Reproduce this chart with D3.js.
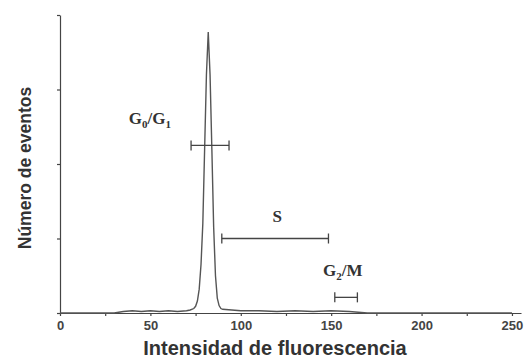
<!DOCTYPE html>
<html>
<head>
<meta charset="utf-8">
<script src="https://cdn.jsdelivr.net/npm/d3@7"></script>
<style>
  body { margin: 0; background: #fff; }
  svg { display: block; }
  .axis path, .axis line { stroke: #444; stroke-width: 1.2; }
  .axis text { font-family: "Liberation Sans", Arial, sans-serif; font-size: 13px; font-weight: bold; fill: #444; }
  .title { font-family: "Liberation Sans", Arial, sans-serif; font-weight: bold; fill: #333; }
  .lbl { font-family: "Liberation Serif", "Times New Roman", serif; font-weight: bold; fill: #333; }
</style>
</head>
<body>
<div id="chart"></div>
<script>
// histogram (fluorescence channel vs. events)
var channel = [0, 30, 35, 40, 45, 50, 55, 60, 65, 70, 72, 74, 75, 76, 77, 78, 79, 80, 81, 82,
               83, 84, 85, 86, 87, 88, 89, 90, 95, 100, 110, 120, 130, 140, 150, 160, 165, 170, 250];
var events  = [0, 0, 0.02, 0.03, 0.02, 0.03, 0.02, 0.03, 0.02, 0.03, 0.04, 0.06, 0.09, 0.16, 0.32, 0.65, 1.2, 2.2, 3.2, 3.77,
               3.2, 2.2, 1.15, 0.5, 0.2, 0.1, 0.06, 0.05, 0.04, 0.03, 0.03, 0.02, 0.03, 0.02, 0.03, 0.02, 0.01, 0, 0];

// gates: name, from, to, height
var gateNames = ["G0/G1", "S", "G2/M"];
var gateFrom  = [72.5, 89.5, 152];
var gateTo    = [93.5, 148.5, 164.5];
var gateY     = [2.25, 1.0, 0.21];
var labelX    = [38, 117.5, 145.5];
var labelY    = [2.54, 1.22, 0.5];

var xTicks = [0, 25, 50, 75, 100, 125, 150, 175, 200, 225, 250];
var yTicks = [0, 1, 2, 3, 4];

var W = 530, H = 360;
var svg = d3.select('#chart').append('svg').attr('width', W).attr('height', H);

var x = d3.scaleLinear().domain([0, 255]).range([60, 521]);
var y = d3.scaleLinear().domain([0, 4]).range([313, 15]);

svg.append('g').attr('class', 'axis')
  .attr('transform', 'translate(0,' + y(0) + ')')
  .call(d3.axisBottom(x).tickValues(xTicks).tickSize(3).tickSizeOuter(0)
    .tickFormat(function(d) { return d % 50 == 0 ? d : ''; }))
  .selectAll('text').attr('dy', '0.85em');

svg.append('g').attr('class', 'axis')
  .attr('transform', 'translate(' + x(0) + ',0)')
  .call(d3.axisLeft(y).tickValues(yTicks).tickSize(3).tickSizeOuter(0).tickFormat(''));

// histogram trace
var line = d3.line().x(function(d, i) { return x(channel[i]); }).y(function(d) { return y(d); });
svg.append('path').datum(events)
  .attr('d', line).attr('fill', 'none').attr('stroke', '#555').attr('stroke-width', 1.4);

// gate bars
gateNames.forEach(function(n, i) {
  var g = svg.append('g').attr('stroke', '#444').attr('stroke-width', 1.3);
  g.append('line').attr('x1', x(gateFrom[i])).attr('x2', x(gateTo[i])).attr('y1', y(gateY[i])).attr('y2', y(gateY[i]));
  [gateFrom[i], gateTo[i]].forEach(function(v) {
    g.append('line').attr('x1', x(v)).attr('x2', x(v)).attr('y1', y(gateY[i]) - 5).attr('y2', y(gateY[i]) + 5);
  });
});

// gate labels with subscripts
function label(i, parts) {
  var t = svg.append('text').attr('class', 'lbl').attr('x', x(labelX[i])).attr('y', y(labelY[i]))
    .attr('font-size', 17);
  parts.forEach(function(p) {
    var s = t.append('tspan').text(p[0]);
    if (p[1]) s.attr('font-size', 11).attr('dy', 4);
    else if (p[2]) s.attr('dy', -4);
  });
}
label(0, [["G"], ["0", true], ["/G", false, true], ["1", true]]);
label(1, [["S"]]);
label(2, [["G"], ["2", true], ["/M", false, true]]);

svg.append('text').attr('class', 'title').attr('x', 275).attr('y', 355)
  .attr('text-anchor', 'middle').attr('font-size', 20).text('Intensidad de fluorescencia');

svg.append('text').attr('class', 'title')
  .attr('transform', 'translate(31,168) rotate(-90)')
  .attr('text-anchor', 'middle').attr('font-size', 17.5).text('Número de eventos');
</script>
</body>
</html>
